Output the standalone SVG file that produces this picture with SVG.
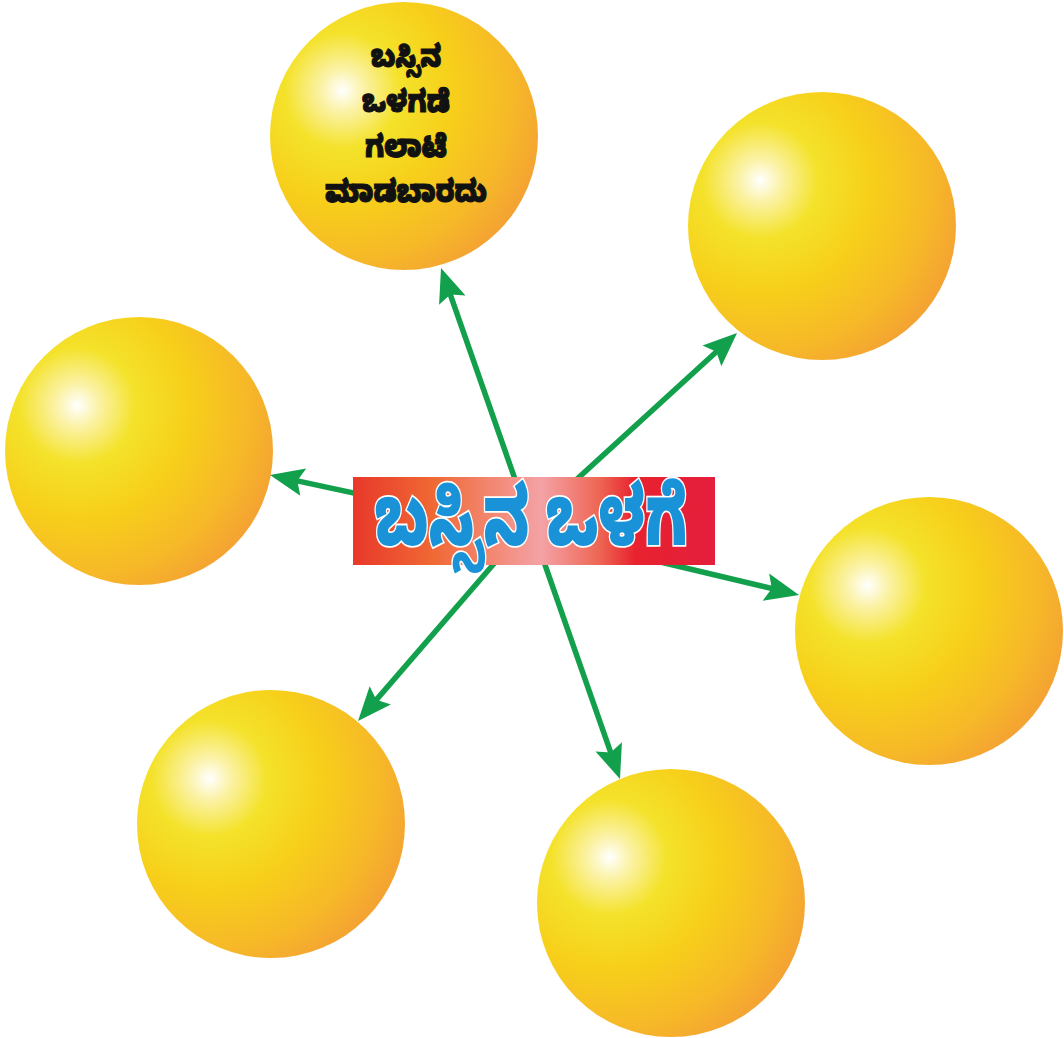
<svg xmlns="http://www.w3.org/2000/svg" width="1064" height="1038" viewBox="0 0 1064 1038">
<style>
.ball{fill:url(#ballGrad);}
.conn{stroke:#12a04c;stroke-width:5.5;fill:none;marker-end:url(#ah);}
.lbl{font-family:"Noto Sans Kannada","Noto Sans","DejaVu Sans",sans-serif;font-weight:900;font-size:26px;fill:#111;stroke:#111;stroke-width:0.9;text-anchor:middle;}
.title{font-family:"Noto Sans Kannada","Noto Sans","DejaVu Sans",sans-serif;font-weight:900;font-size:57px;fill:#1a92d8;stroke:#ffffff;stroke-width:2.5;paint-order:stroke;text-anchor:middle;}
</style>
<defs>
<radialGradient id="ballGrad" cx="0.27" cy="0.33" r="0.8" fx="0.27" fy="0.33">
<stop offset="0" stop-color="#ffffff"/>
<stop offset="0.1" stop-color="#fbf2a6"/>
<stop offset="0.27" stop-color="#f4e22a"/>
<stop offset="0.52" stop-color="#f7cf1a"/>
<stop offset="0.8" stop-color="#f6b828"/>
<stop offset="1" stop-color="#f4a034"/>
</radialGradient>
<linearGradient id="rectGrad" x1="0" y1="0" x2="1" y2="0">
<stop offset="0" stop-color="#e8382a"/>
<stop offset="0.22" stop-color="#f06834"/>
<stop offset="0.52" stop-color="#f4a2a6"/>
<stop offset="0.68" stop-color="#ee6654"/>
<stop offset="0.78" stop-color="#e8222e"/>
<stop offset="1" stop-color="#e41e3c"/>
</linearGradient>
<marker id="ah" viewBox="-14 -16 38 32" refX="0" refY="0" markerWidth="38" markerHeight="32" markerUnits="userSpaceOnUse" orient="auto">
<path d="M22,0 L-12,-14 L-6,0 L-12,14 Z" fill="#12a04c"/>
</marker>
</defs>
<rect width="1064" height="1038" fill="#ffffff"/>
<g id="node-top"><circle class="ball" cx="404" cy="136" r="134"/>
<text class="lbl" transform="translate(406,67) scale(1,1.18)">ಬಸ್ಸಿನ</text>
<text class="lbl" transform="translate(406,112) scale(1,1.18)">ಒಳಗಡೆ</text>
<text class="lbl" transform="translate(406,157) scale(1,1.18)">ಗಲಾಟೆ</text>
<text class="lbl" transform="translate(406,202) scale(1,1.18)">ಮಾಡಬಾರದು</text>
</g>
<g id="node-upper-right"><circle class="ball" cx="822" cy="226" r="134"/></g>
<g id="node-left"><circle class="ball" cx="139" cy="451" r="134"/></g>
<g id="node-right"><circle class="ball" cx="929" cy="631" r="134"/></g>
<g id="node-lower-left"><circle class="ball" cx="271" cy="824" r="134"/></g>
<g id="node-bottom"><circle class="ball" cx="671" cy="903" r="134"/></g>
<g id="connectors">
<line class="conn" x1="530" y1="522" x2="448.3" y2="288.8"/>
<line class="conn" x1="530" y1="522" x2="720.8" y2="347.8"/>
<line class="conn" x1="530" y1="531" x2="291.5" y2="479.6"/>
<line class="conn" x1="530" y1="531" x2="777.6" y2="589.9"/>
<line class="conn" x1="530" y1="522" x2="372.4" y2="704.4"/>
<line class="conn" x1="530" y1="522" x2="612.7" y2="758.2"/>
</g>
<g id="node-center">
<rect x="353" y="477" width="362" height="88" fill="url(#rectGrad)"/>
<text class="title" transform="translate(531,545) scale(1,1.45)">ಬಸ್ಸಿನ ಒಳಗೆ</text>
</g>
</svg>
